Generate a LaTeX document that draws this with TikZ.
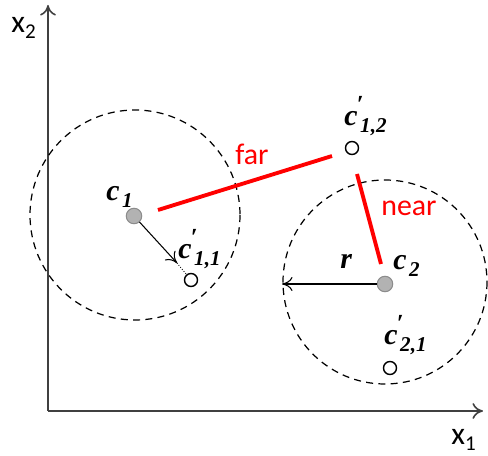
\documentclass[tikz,border=0pt]{standalone}
\usepackage{fontspec}
\setmainfont{Liberation Serif}
\newfontfamily\calfont{Carlito}
\usetikzlibrary{arrows.meta}
\newcommand{\csub}[1]{\kern1.5pt\raisebox{-3.8pt}{\fontsize{12}{12}\selectfont\bfseries\itshape #1}}
\newcommand{\cprime}{\rlap{\raisebox{7.5pt}{\fontsize{14}{14}\selectfont\bfseries\itshape\kern-0.5pt ′}}}
\newcommand{\xsub}[1]{\raisebox{-3pt}{\calfont\fontsize{12}{12}\selectfont #1}}
\begin{document}
\begin{tikzpicture}[x=0.02cm,y=-0.02cm,
  axis/.style={draw=black!75,line width=0.9pt,-{To[length=6pt,width=9pt]}},
  region/.style={draw,dashed,line width=0.7pt,dash pattern=on 4pt off 3pt},
  center/.style={circle,draw=black!45,fill=black!30,line width=0.6pt,minimum size=15.5*0.02cm,inner sep=0pt},
  member/.style={circle,draw=black,fill=white,line width=0.8pt,minimum size=13*0.02cm,inner sep=0pt},
  clab/.style={anchor=base west,inner sep=0pt,font=\fontsize{17}{17}\selectfont\bfseries\itshape},
  slab/.style={anchor=base west,inner sep=0pt,font=\calfont\fontsize{18}{18}\selectfont},
  redlab/.style={anchor=base west,inner sep=0pt,font=\calfont\fontsize{17}{17}\selectfont,text=red},
  link/.style={draw=red,line width=2.2pt},
  vec/.style={draw,line width=0.6pt,-{To[length=6pt,width=8pt]}}]
\useasboundingbox (0,0) rectangle (488,456);
% axes
\coordinate (O) at (48,411);
\coordinate (Yend) at (48,5);
\coordinate (Xend) at (483,411);
\draw[axis] (O) -- (Yend);
\draw[axis] (O) -- (Xend);
\node[slab] (x2) at (11,33) {x\xsub{2}};
\node[slab] (x1) at (451,445) {x\xsub{1}};
% regions
\draw[region] (135,215) circle (105);
\draw[region] (385,282) circle (102);
% points
\node[center] (c1) at (134,216) {};
\node[center] (c2) at (385,284) {};
\node[member] (c11) at (191,280) {};
\node[member] (c12) at (352,148) {};
\node[member] (c21) at (390,368) {};
% labels
\node[clab] (lc1) at (106,201) {c\csub{1}};
\node[clab] (lc2) at (393,270) {c\csub{2}};
\node[clab] (lc11) at (178,259) {c\cprime\csub{1,1}};
\node[clab] (lc12) at (344,126) {c\cprime\csub{1,2}};
\node[clab] (lc21) at (384,345) {c\cprime\csub{2,1}};
\node[clab] (lr) at (340,269) {r};
% links
\coordinate (f1) at (158,210);
\coordinate (f2) at (332,156);
\draw[link] (f1) -- (f2);
\node[redlab] (far) at (235,165) {far};
\coordinate (n1) at (357,174);
\coordinate (n2) at (381,264);
\draw[link] (n1) -- (n2);
\node[redlab] (near) at (381,216) {near};
% vectors
\coordinate (a1) at (177,263);
\draw[vec] (c1) -- (a1);
\draw[densely dotted,line width=0.5pt] (a1) -- (c11);
\coordinate (rend) at (282,284);
\draw[vec] (c2) -- (rend);
\end{tikzpicture}
\end{document}
